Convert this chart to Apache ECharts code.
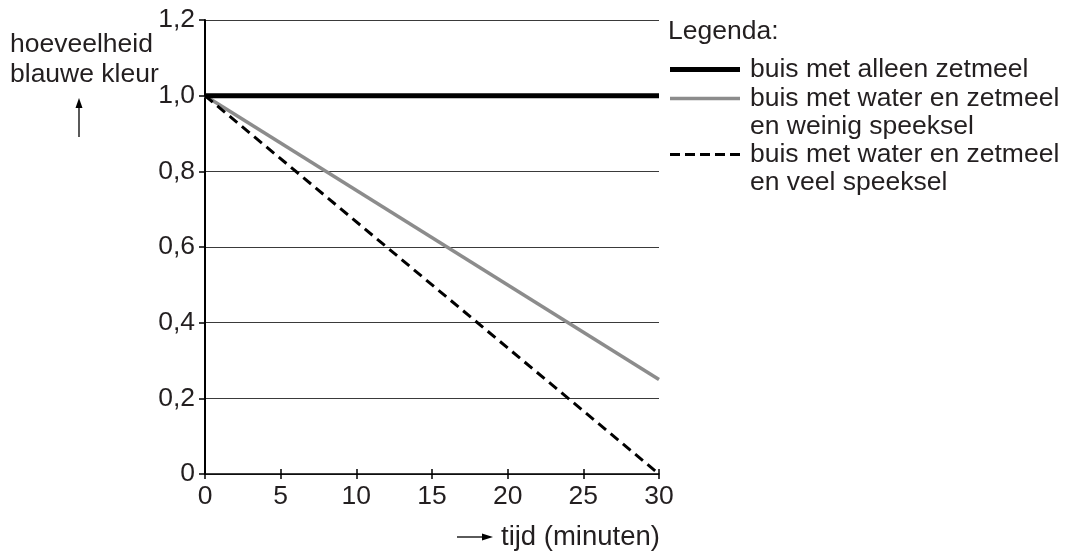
<!DOCTYPE html>
<html>
<head>
<meta charset="utf-8">
<script src="https://cdn.jsdelivr.net/npm/echarts@6/dist/echarts.min.js"></script>
<style>html,body{margin:0;padding:0;background:#fff}#c{width:1067px;height:551px}</style>
</head>
<body>
<div id="c"></div>
<script>
const times = [0, 30];
const alleenZetmeel = [1.0, 1.0];
const weinigSpeeksel = [1.0, 0.25];
const veelSpeeksel = [1.0, 0.0];
const xTicks = [0, 5, 10, 15, 20, 25, 30];
const yTicks = [0, 0.2, 0.4, 0.6, 0.8, 1.0, 1.2];
const seriesNames = [
  'buis met alleen zetmeel',
  'buis met water en zetmeel\nen weinig speeksel',
  'buis met water en zetmeel\nen veel speeksel'
];

const FONT = '"Liberation Sans", Arial, Helvetica, sans-serif';
const FS = 26.5;
const TXT = '#231f20';
const chart = echarts.init(document.getElementById('c'));
const pairs = arr => times.map((t, i) => [t, arr[i]]);

function legendAt(name, top, icon, h) {
  const multi = name.indexOf('\n') >= 0;
  return {
    data: [name], left: 670, top: top, orient: 'vertical',
    itemWidth: 70, itemHeight: h, icon: icon, selectedMode: false, padding: 0,
    formatter: n => (multi ? '{a| }\n' : '') + n.split('\n').map(l => '{a|' + l + '}').join('\n'),
    textStyle: { fontFamily: FONT, fontSize: FS, color: TXT,
      rich: { a: { fontFamily: FONT, fontSize: FS, color: TXT, lineHeight: 28, padding: [0, 0, 0, 5] } } }
  };
}

chart.setOption({
  animation: false,
  grid: { left: 205, right: 408, top: 20, bottom: 77 },
  xAxis: [{
    type: 'value', min: 0, max: 30, interval: 5,
    axisLine: { lineStyle: { color: '#000', width: 1.5 } },
    axisTick: { show: true, length: 5, lineStyle: { color: '#000', width: 1.5 } },
    axisLabel: { fontFamily: FONT, fontSize: FS, color: TXT, margin: 9,
      formatter: v => xTicks.includes(v) ? String(v) : '' },
    splitLine: { show: false }
  }, {
    type: 'value', min: 0, max: 30, interval: 5, position: 'bottom',
    axisLine: { show: false },
    axisTick: { show: true, inside: true, length: 5, lineStyle: { color: '#000', width: 1.5 } },
    axisLabel: { show: false }, splitLine: { show: false }
  }],
  yAxis: {
    type: 'value', min: 0, max: 1.2, interval: 0.2,
    axisLine: { show: true, lineStyle: { color: '#000', width: 2 } },
    axisTick: { show: true, length: 6, lineStyle: { color: '#000', width: 1.5 } },
    axisLabel: { fontFamily: FONT, fontSize: FS, color: TXT, margin: 10,
      formatter: v => v === 0 ? '0' : v.toFixed(1).replace('.', ',') },
    splitLine: { show: true, lineStyle: { color: '#3a3a3a', width: 1 } }
  },
  legend: [
    legendAt(seriesNames[0], 56, 'path://M0,0h70v5h-70z', 5),
    legendAt(seriesNames[1], 57, 'path://M0,0h70v3.5h-70z', 3.5),
    legendAt(seriesNames[2], 113, 'path://M0,0h10v3h-10z M15,0h10v3h-10z M30,0h10v3h-10z M45,0h10v3h-10z M60,0h10v3h-10z', 3)
  ],
  series: [
    { name: seriesNames[0], type: 'line', data: pairs(alleenZetmeel), symbol: 'none',
      lineStyle: { color: '#000', width: 5 }, itemStyle: { color: '#000' }, z: 3 },
    { name: seriesNames[1], type: 'line', data: pairs(weinigSpeeksel), symbol: 'none',
      lineStyle: { color: '#8c8c8c', width: 3.5 }, itemStyle: { color: '#8c8c8c' }, z: 2 },
    { name: seriesNames[2], type: 'line', data: pairs(veelSpeeksel), symbol: 'none',
      lineStyle: { color: '#000', width: 3, type: [10, 6] }, itemStyle: { color: '#000' }, z: 2 }
  ],
  graphic: [
    { type: 'text', style: { x: 668, y: 32, verticalAlign: 'middle', text: 'Legenda:', font: FS + 'px ' + FONT, fill: TXT } },
    { type: 'text', style: { x: 10, y: 45, verticalAlign: 'middle', text: 'hoeveelheid', font: FS + 'px ' + FONT, fill: TXT } },
    { type: 'text', style: { x: 10, y: 75, verticalAlign: 'middle', text: 'blauwe kleur', font: FS + 'px ' + FONT, fill: TXT } },
    { type: 'line', shape: { x1: 79, y1: 137, x2: 79, y2: 104 }, style: { stroke: '#000', lineWidth: 1.3 } },
    { type: 'polygon', shape: { points: [[79, 98], [75.5, 108], [82.5, 108]] }, style: { fill: '#000' } },
    { type: 'line', shape: { x1: 457, y1: 537, x2: 486, y2: 537 }, style: { stroke: '#000', lineWidth: 1.3 } },
    { type: 'polygon', shape: { points: [[493, 537], [482, 533.5], [482, 540.5]] }, style: { fill: '#000' } },
    { type: 'text', style: { x: 501, y: 537, verticalAlign: 'middle', text: 'tijd (minuten)', font: '27.5px ' + FONT, fill: TXT } }
  ]
});
</script>
</body>
</html>
